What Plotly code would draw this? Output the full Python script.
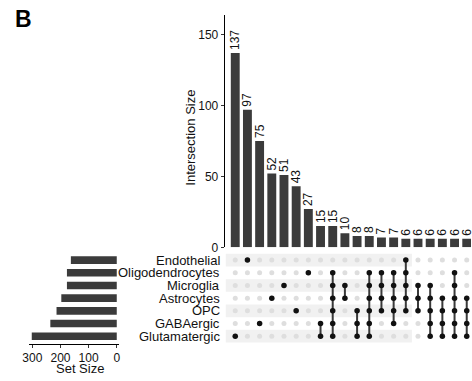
import plotly.graph_objects as go

# ---------------- data ----------------
set_names = ["Glutamatergic", "GABAergic", "OPC", "Astrocytes",
             "Microglia", "Oligodendrocytes", "Endothelial"]          # bottom -> top
set_sizes = [302, 236, 214, 197, 177, 177, 163]

intersection_sizes = [137, 97, 75, 52, 51, 43, 27, 15, 15, 10,
                      8, 8, 7, 7, 6, 6, 6, 6, 6, 6]
intersection_members = [
    ["Glutamatergic"],
    ["Endothelial"],
    ["GABAergic"],
    ["Astrocytes"],
    ["Microglia"],
    ["OPC"],
    ["Oligodendrocytes"],
    ["GABAergic", "Glutamatergic"],
    ["Oligodendrocytes", "Microglia", "Astrocytes", "OPC", "GABAergic", "Glutamatergic"],
    ["Microglia", "Astrocytes"],
    ["OPC", "GABAergic", "Glutamatergic"],
    ["Oligodendrocytes", "Microglia", "Astrocytes", "OPC", "GABAergic", "Glutamatergic"],
    ["Oligodendrocytes", "Microglia", "Astrocytes", "OPC"],
    ["Oligodendrocytes", "Microglia", "Astrocytes", "OPC", "GABAergic"],
    ["Endothelial", "Oligodendrocytes", "Microglia", "Astrocytes", "OPC"],
    ["Microglia", "Astrocytes", "OPC"],
    ["Microglia", "Astrocytes", "OPC", "GABAergic", "Glutamatergic"],
    ["Astrocytes", "OPC", "GABAergic", "Glutamatergic"],
    ["Oligodendrocytes", "Microglia", "Astrocytes", "OPC", "GABAergic", "Glutamatergic"],
    ["Astrocytes", "OPC", "GABAergic", "Glutamatergic"],
]
size_ticks = [0, 50, 100, 150]
setsize_ticks = [0, 100, 200, 300]

# ---------------- layout helpers ----------------
W, H = 472, 381
FONT = "Liberation Sans, Arial, sans-serif"
BAR = "#3b3b3b"


def px(x):
    return x / W


def py(y):
    return 1 - y / H


cols = list(range(1, len(intersection_sizes) + 1))
xr = [0.135, 20.35]
yr_mat = [-0.58, 6.695]

fig = go.Figure()

# top intersection bars
fig.add_trace(go.Bar(
    x=cols, y=intersection_sizes, marker_color=BAR, marker_line_width=0,
    text=[str(v) for v in intersection_sizes], textposition="outside",
    textangle=-90, constraintext="none", cliponaxis=False,
    textfont=dict(family=FONT, size=12, color="#111111"),
    xaxis="x", yaxis="y", hoverinfo="skip", width=0.73))

# matrix: empty dots
gx, gy = [], []
for c in cols:
    for r in range(len(set_names)):
        gx.append(c)
        gy.append(r)
fig.add_trace(go.Scatter(x=gx, y=gy, mode="markers",
                         marker=dict(size=5, color="#dedede"),
                         xaxis="x2", yaxis="y2", hoverinfo="skip"))

# connecting lines
lx, ly = [], []
bx, by = [], []
for c, mem in zip(cols, intersection_members):
    rows = [set_names.index(m) for m in mem]
    for r in rows:
        bx.append(c)
        by.append(r)
    if len(rows) > 1:
        lx += [c, c, None]
        ly += [min(rows), max(rows), None]
fig.add_trace(go.Scatter(x=lx, y=ly, mode="lines",
                         line=dict(color="#3a3a3a", width=2),
                         xaxis="x2", yaxis="y2", hoverinfo="skip"))
fig.add_trace(go.Scatter(x=bx, y=by, mode="markers",
                         marker=dict(size=5.5, color="#111111"),
                         xaxis="x2", yaxis="y2", hoverinfo="skip"))

# set size bars
fig.add_trace(go.Bar(x=set_sizes, y=list(range(len(set_names))), orientation="h",
                     marker_color=BAR, marker_line_width=0, width=0.6,
                     xaxis="x3", yaxis="y3", hoverinfo="skip"))

# stripes
shapes = []
for r in range(0, len(set_names), 2):
    shapes.append(dict(type="rect", xref="x2", yref="y2", x0=0.22, x1=15.5,
                       y0=r - 0.5, y1=r + 0.5, fillcolor="#f1f1f1",
                       line_width=0, layer="below"))

annotations = []
for r, name in enumerate(set_names):
    annotations.append(dict(x=px(219), xref="paper", y=r, yref="y2",
                            text=name, showarrow=False, xanchor="right",
                            yanchor="middle",
                            font=dict(family=FONT, size=13, color="#111111")))
annotations.append(dict(x=px(187), y=py(140), xref="paper", yref="paper",
                        text="Intersection Size", textangle=-90, showarrow=False,
                        xanchor="center", yanchor="middle",
                        font=dict(family=FONT, size=13, color="#111111")))
annotations.append(dict(x=px(75), y=py(375), xref="paper", yref="paper",
                        text="Set Size", showarrow=False,
                        xanchor="center", yanchor="middle",
                        font=dict(family=FONT, size=13, color="#111111")))
annotations.append(dict(x=px(7), y=py(19), xref="paper", yref="paper",
                        text="<b>B</b>", showarrow=False,
                        xanchor="left", yanchor="middle",
                        font=dict(family=FONT, size=23, color="#000000")))

tickfont = dict(family=FONT, size=12, color="#111111")

fig.update_layout(
    width=W, height=H, margin=dict(l=0, r=0, t=0, b=0),
    paper_bgcolor="white", plot_bgcolor="white", showlegend=False,
    bargap=0.27,
    shapes=shapes, annotations=annotations,
    xaxis=dict(domain=[px(222), 1], range=xr, showticklabels=False, showgrid=False,
               zeroline=False, showline=False, ticks="", anchor="y"),
    yaxis=dict(domain=[py(252), py(15)], range=[0, 164], tickvals=size_ticks,
               showgrid=False, zeroline=False, showline=True, linecolor="black",
               linewidth=1, ticks="outside", ticklen=3, tickcolor="#333333",
               tickfont=tickfont, anchor="x"),
    xaxis2=dict(domain=[px(222), 1], range=xr, showticklabels=False, showgrid=False,
                zeroline=False, showline=False, ticks="", anchor="y2"),
    yaxis2=dict(domain=[py(350), py(256)], range=yr_mat, showticklabels=False,
                showgrid=False, zeroline=False, showline=False, ticks="", anchor="x2"),
    xaxis3=dict(domain=[px(23), px(115)], range=[313, -9], tickvals=setsize_ticks,
                showgrid=False, zeroline=False, showline=True, linecolor="black",
                linewidth=1, ticks="outside", ticklen=3, tickcolor="#333333",
                tickfont=tickfont, anchor="y3"),
    yaxis3=dict(domain=[py(350), py(256)], range=yr_mat, showticklabels=False,
                showgrid=False, zeroline=False, showline=False, ticks="", anchor="x3"),
)

fig.write_html("out.html", config={"displayModeBar": False},
               post_script="document.body.style.margin='0';"
                           "document.body.style.overflow='hidden';")
